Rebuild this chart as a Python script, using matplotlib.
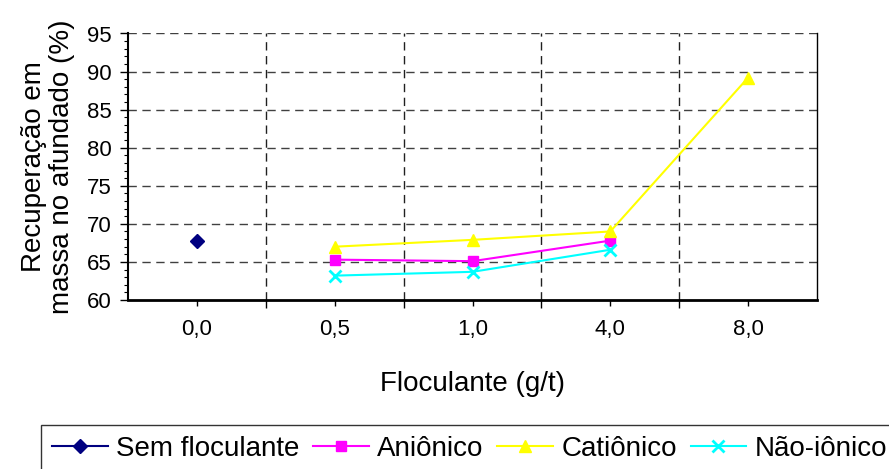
import matplotlib
matplotlib.use('Agg')
import matplotlib.pyplot as plt
from matplotlib.ticker import MultipleLocator, FixedLocator

plt.rcParams['font.family'] = ['Liberation Sans', 'DejaVu Sans']

# dados
categorias = ['0,0', '0,5', '1,0', '4,0', '8,0']
sem_floculante = [67.7, None, None, None, None]
anionico = [None, 65.3, 65.1, 67.8, None]
cationico = [None, 67.0, 67.9, 69.0, 89.2]
nao_ionico = [None, 63.2, 63.7, 66.6, None]

series = [
    ('Sem floculante', sem_floculante, '#000080', 'D', 7),
    ('Aniônico', anionico, '#FF00FF', 's', 7),
    ('Catiônico', cationico, '#FFFF00', '^', 9),
    ('Não-iônico', nao_ionico, '#00FFFF', 'x', 9),
]

fig = plt.figure(figsize=(8.89, 4.69), dpi=100)
ax = fig.add_axes([128 / 889, 1 - 300 / 469, (817 - 128) / 889, (300 - 33.5) / 469])

x = list(range(len(categorias)))
for nome, vals, cor, mk, ms in series:
    xs = [i for i, v in zip(x, vals) if v is not None]
    ys = [v for v in vals if v is not None]
    ax.plot(xs, ys, color=cor, marker=mk, markersize=ms, linewidth=1.5,
            markeredgewidth=2 if mk == 'x' else 1, label=nome, zorder=3)

ax.set_xlim(-0.5, len(categorias) - 0.5)
ax.set_ylim(60, 95)

# grade
for yv in range(65, 96, 5):
    ax.axhline(yv, color='#404040', linestyle=(0, (6, 4)), linewidth=1, zorder=1)
for xv in [0.5, 1.5, 2.5, 3.5]:
    ax.axvline(xv, color='#202020', linestyle=(0, (6, 4)), linewidth=1, zorder=1)

ax.set_xticks(x)
ax.set_xticklabels(categorias, fontsize=16)
ax.xaxis.set_minor_locator(FixedLocator([0.5, 1.5, 2.5, 3.5]))
ax.tick_params(axis='x', which='major', length=4, width=1, pad=10)
ax.tick_params(axis='x', which='minor', length=6, width=1)

ax.yaxis.set_major_locator(MultipleLocator(5))
ax.yaxis.set_minor_locator(MultipleLocator(1))
ax.tick_params(axis='y', which='major', length=6, width=1, labelsize=16, pad=6)
ax.tick_params(axis='y', which='minor', length=3, width=0.8)

ax.spines['top'].set_visible(False)
ax.spines['left'].set_linewidth(1.5)
ax.spines['bottom'].set_linewidth(2)
ax.spines['right'].set_linewidth(1)

ax.set_xlabel('Floculante (g/t)', fontsize=20, labelpad=22)
ax.set_ylabel('Recuperação em\nmassa no afundado (%)', fontsize=20, linespacing=1.1)
ax.yaxis.set_label_coords(-0.077, 0.5)

leg = fig.legend(loc='upper left', bbox_to_anchor=(41 / 889, 1 - 425 / 469),
                 ncol=4, fontsize=20, frameon=True, fancybox=False,
                 edgecolor='black', handlelength=2.0, handletextpad=0.3,
                 columnspacing=0.5, borderpad=0.4, borderaxespad=0)
leg.get_frame().set_linewidth(1)

fig.savefig('out.png', dpi=100)
